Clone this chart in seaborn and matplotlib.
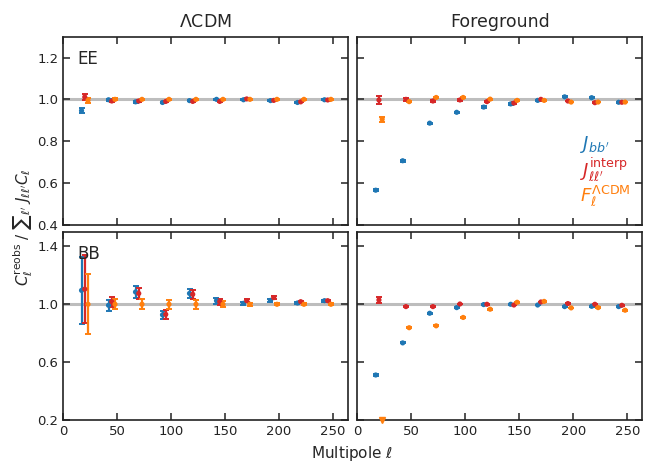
import numpy as np
import pandas as pd
import matplotlib
matplotlib.use("Agg")
import matplotlib.pyplot as plt
import seaborn as sns

sns.set_theme(style="ticks")
plt.rcParams['font.family'] = ['DejaVu Sans']
plt.rcParams['mathtext.fontset'] = 'dejavusans'

# bin centres
ell = np.array([17, 42, 67, 92, 117, 142, 167, 192, 217, 242])
offsets = {"J_bb": 0, "J_interp": 3, "F_LCDM": 6}

# EE, LambdaCDM
ee_lcdm_bb = [0.946, 0.998, 0.988, 0.985, 0.994, 1.000, 0.998, 0.994, 0.985, 0.998]
ee_lcdm_bb_err = [0.012, 0.006, 0.005, 0.004, 0.004, 0.003, 0.003, 0.003, 0.003, 0.003]
ee_lcdm_interp = [1.011, 0.992, 0.992, 0.990, 0.990, 0.990, 1.002, 0.995, 0.988, 0.997]
ee_lcdm_interp_err = [0.013, 0.006, 0.005, 0.004, 0.004, 0.003, 0.003, 0.003, 0.003, 0.003]
ee_lcdm_f = [0.995, 1.000, 1.000, 1.000, 1.000, 1.000, 1.000, 1.000, 1.000, 1.000]
ee_lcdm_f_err = [0.011, 0.005, 0.004, 0.003, 0.003, 0.003, 0.002, 0.002, 0.002, 0.002]

# EE, Foreground
ee_fg_bb = [0.565, 0.706, 0.886, 0.938, 0.963, 0.978, 0.995, 1.012, 1.008, 0.986]
ee_fg_bb_err = [0.006, 0.004, 0.003, 0.003, 0.003, 0.003, 0.002, 0.002, 0.002, 0.002]
ee_fg_interp = [0.997, 1.000, 0.992, 0.997, 0.989, 0.982, 1.000, 0.992, 0.984, 0.986]
ee_fg_interp_err = [0.020, 0.006, 0.004, 0.003, 0.003, 0.003, 0.002, 0.002, 0.002, 0.002]
ee_fg_f = [0.905, 0.989, 1.009, 1.009, 1.001, 0.995, 0.995, 0.987, 0.987, 0.987]
ee_fg_f_err = [0.012, 0.004, 0.003, 0.003, 0.003, 0.002, 0.002, 0.002, 0.002, 0.002]

# BB, LambdaCDM
bb_lcdm_bb = [1.096, 0.993, 1.085, 0.927, 1.075, 1.025, 1.007, 1.027, 1.009, 1.025]
bb_lcdm_bb_err = [0.230, 0.037, 0.040, 0.030, 0.030, 0.020, 0.012, 0.010, 0.008, 0.008]
bb_lcdm_interp = [1.105, 1.018, 1.075, 0.930, 1.069, 1.018, 1.025, 1.046, 1.018, 1.025]
bb_lcdm_interp_err = [0.235, 0.035, 0.040, 0.030, 0.030, 0.020, 0.012, 0.010, 0.008, 0.008]
bb_lcdm_f = [1.000, 1.000, 1.000, 1.000, 1.000, 1.000, 1.000, 1.000, 1.000, 1.000]
bb_lcdm_f_err = [0.208, 0.035, 0.035, 0.030, 0.030, 0.020, 0.010, 0.008, 0.006, 0.006]

# BB, Foreground
bb_fg_bb = [0.511, 0.733, 0.938, 0.977, 0.998, 1.000, 0.995, 0.984, 0.986, 0.984]
bb_fg_bb_err = [0.008, 0.004, 0.003, 0.003, 0.003, 0.002, 0.002, 0.002, 0.002, 0.002]
bb_fg_interp = [1.030, 0.984, 0.984, 1.002, 1.000, 0.995, 1.016, 1.005, 1.000, 0.993]
bb_fg_interp_err = [0.022, 0.006, 0.004, 0.003, 0.003, 0.002, 0.002, 0.002, 0.002, 0.002]
bb_fg_f = [0.150, 0.838, 0.851, 0.909, 0.966, 1.014, 1.020, 0.975, 0.977, 0.959]
bb_fg_f_err = [0.010, 0.004, 0.003, 0.003, 0.003, 0.002, 0.002, 0.002, 0.002, 0.002]

colors = {"J_bb": "#1f77b4", "J_interp": "#d62728", "F_LCDM": "#ff7f0e"}
labels = {"J_bb": r"$J_{bb'}$",
          "J_interp": r"$J_{\ell\ell'}^{\rm interp}$",
          "F_LCDM": r"$F_\ell^{\Lambda{\rm CDM}}$"}

panels = {
    (0, 0): (ee_lcdm_bb, ee_lcdm_bb_err, ee_lcdm_interp, ee_lcdm_interp_err, ee_lcdm_f, ee_lcdm_f_err),
    (0, 1): (ee_fg_bb, ee_fg_bb_err, ee_fg_interp, ee_fg_interp_err, ee_fg_f, ee_fg_f_err),
    (1, 0): (bb_lcdm_bb, bb_lcdm_bb_err, bb_lcdm_interp, bb_lcdm_interp_err, bb_lcdm_f, bb_lcdm_f_err),
    (1, 1): (bb_fg_bb, bb_fg_bb_err, bb_fg_interp, bb_fg_interp_err, bb_fg_f, bb_fg_f_err),
}
ylims = {0: (0.4, 1.3), 1: (0.2, 1.5)}
yticks = {0: [0.4, 0.6, 0.8, 1.0, 1.2], 1: [0.2, 0.6, 1.0, 1.4]}

fig, axes = plt.subplots(2, 2, figsize=(6.65, 4.74), dpi=100, sharex=True)
fig.subplots_adjust(left=0.095, right=0.966, top=0.9226, bottom=0.114,
                    wspace=0.032, hspace=0.039)

for (r, c), vals in panels.items():
    ax = axes[r, c]
    ax.axhline(1.0, color="#bdbdbd", lw=2.2, zorder=0)
    lo, hi = ylims[r]
    keys = ["J_bb", "J_interp", "F_LCDM"]
    rows = []
    for i, k in enumerate(keys):
        y = np.array(vals[2 * i])
        e = np.array(vals[2 * i + 1])
        x = ell + offsets[k]
        inside = y >= lo
        ax.errorbar(x[inside], y[inside], yerr=e[inside], fmt="none",
                    ecolor=colors[k], elinewidth=1.6, capsize=2.2, capthick=1.4, zorder=2)
        for xi, yi, ins in zip(x, y, inside):
            rows.append({"ell": xi, "ratio": yi, "method": k, "inside": ins})
        if (~inside).any():
            ax.plot(x[~inside], np.full((~inside).sum(), lo), marker="v", ls="none",
                    color=colors[k], ms=5, clip_on=False, zorder=3)
    df = pd.DataFrame(rows)
    df = df[df["inside"]]
    sns.scatterplot(data=df, x="ell", y="ratio", hue="method", palette=colors,
                    marker="o", s=14, linewidth=0, ax=ax, legend=False, zorder=3)
    ax.set_xlim(0, 264)
    ax.set_ylim(lo, hi)
    ax.set_yticks(yticks[r])
    ax.set_xticks([0, 50, 100, 150, 200, 250])
    ax.tick_params(direction="in", top=True, right=True, length=5, width=1.1,
                   labelsize=9.5, colors="#222222")
    for s in ax.spines.values():
        s.set_linewidth(1.2)
        s.set_color("#222222")
    ax.set_xlabel("")
    ax.set_ylabel("")
    if c == 1:
        ax.tick_params(labelleft=False)
    else:
        ax.set_yticklabels([f"{t:.1f}" for t in yticks[r]])

axes[0, 0].set_title(r"$\Lambda$CDM", fontsize=12.5, pad=7)
axes[0, 1].set_title("Foreground", fontsize=12.5, pad=7)
axes[0, 0].text(0.05, 0.93, "EE", transform=axes[0, 0].transAxes, fontsize=12, va="top")
axes[1, 0].text(0.05, 0.93, "BB", transform=axes[1, 0].transAxes, fontsize=12, va="top")

for j, k in enumerate(["J_bb", "J_interp", "F_LCDM"]):
    axes[0, 1].text(0.78, 0.425 - j * 0.137, labels[k], color=colors[k],
                    transform=axes[0, 1].transAxes, fontsize=13, ha="left", va="center")

fig.text(0.53, 0.043, r"Multipole $\ell$", ha="center", va="center", fontsize=11)
fig.text(0.035, 0.52, r"$C_\ell^{\rm reobs}$ / ∑${}_{\ell'}$ $J_{\ell\ell'}C_\ell$",
         rotation=90, ha="center", va="center", fontsize=11)

fig.savefig("out.png", dpi=100)
